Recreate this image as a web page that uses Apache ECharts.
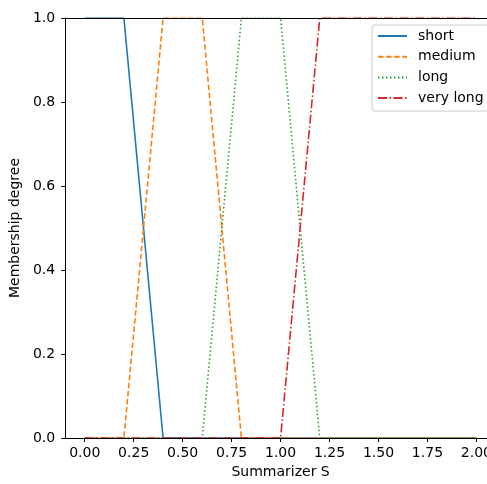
<!DOCTYPE html>
<html>
<head>
<meta charset="utf-8">
<script src="https://cdn.jsdelivr.net/npm/echarts@6/dist/echarts.min.js"></script>
<style>
html,body{margin:0;padding:0;background:#fff;overflow:hidden;}
#chart{width:500px;height:484px;}
</style>
</head>
<body>
<div id="chart"></div>
<script>
// Membership functions (x = Summarizer S, y = membership degree)
const seriesNames = ['short', 'medium', 'long', 'very long'];
const shortX = [0, 0.2, 0.4, 2.0];
const shortY = [1, 1, 0, 0];
const mediumX = [0, 0.2, 0.4, 0.6, 0.8, 2.0];
const mediumY = [0, 0, 1, 1, 0, 0];
const longX = [0, 0.6, 0.8, 1.0, 1.2, 2.0];
const longY = [0, 0, 1, 1, 0, 0];
const veryLongX = [0, 1.0, 1.2, 2.0];
const veryLongY = [0, 0, 1, 1];
const xTicks = [0, 0.25, 0.5, 0.75, 1.0, 1.25, 1.5, 1.75, 2.0];
const yTicks = [0, 0.2, 0.4, 0.6, 0.8, 1.0];

const zip = (xs, ys) => xs.map((x, i) => [x, ys[i]]);
const FONT = 'DejaVu Sans';
const FS = 14;
const colors = ['#1f77b4', '#ff7f0e', '#2ca02c', '#d62728'];
const lw = 1.6;

const chart = echarts.init(document.getElementById('chart'));
chart.setOption({
  animation: false,
  backgroundColor: '#fff',
  textStyle: { fontFamily: FONT },
  grid: { left: 65, top: 18, width: 431, height: 426, containLabel: false },
  legend: {
    orient: 'vertical',
    left: 372, top: 25,
    padding: [4, 6, 6, 5],
    itemWidth: 29, itemHeight: 14, itemGap: 6.7,
    borderColor: '#cccccc', borderWidth: 1, borderRadius: 3,
    backgroundColor: 'rgba(255,255,255,0.8)',
    itemStyle: { opacity: 0 },
    textStyle: { fontFamily: FONT, fontSize: FS, color: '#000', padding: [0, 0, 0, 6] },
    data: seriesNames
  },
  xAxis: [{
    type: 'value', min: -0.1, max: 2.1, z: 5,
    name: 'Summarizer S', nameLocation: 'middle', nameGap: 27,
    nameTextStyle: { fontFamily: FONT, fontSize: FS, color: '#000' },
    axisLine: { show: true, onZero: false, lineStyle: { color: '#000', width: 1 } },
    axisTick: { show: true, length: 4, lineStyle: { color: '#000' }, customValues: xTicks },
    axisLabel: { margin: 8, fontFamily: FONT, fontSize: FS, color: '#000', customValues: xTicks,
      formatter: v => v.toFixed(2) },
    splitLine: { show: false }
  }, {
    type: 'value', position: 'top', min: -0.1, max: 2.1, z: 5,
    axisLine: { show: true, onZero: false, lineStyle: { color: '#000', width: 1 } },
    axisTick: { show: false }, axisLabel: { show: false }, splitLine: { show: false }
  }],
  yAxis: [{
    type: 'value', min: 0, max: 1, interval: 0.2, z: 5,
    name: 'Membership degree', nameLocation: 'middle', nameGap: 40,
    nameTextStyle: { fontFamily: FONT, fontSize: FS, color: '#000' },
    axisLine: { show: true, onZero: false, lineStyle: { color: '#000', width: 1 } },
    axisTick: { show: true, length: 4, lineStyle: { color: '#000' }, customValues: yTicks },
    axisLabel: { margin: 10, fontFamily: FONT, fontSize: FS, color: '#000', customValues: yTicks,
      formatter: v => v.toFixed(1) },
    splitLine: { show: false }
  }],
  series: [
    { name: seriesNames[0], type: 'line', data: zip(shortX, shortY), symbol: 'none',
      color: colors[0], lineStyle: { width: lw, type: 'solid' } },
    { name: seriesNames[1], type: 'line', data: zip(mediumX, mediumY), symbol: 'none',
      color: colors[1], lineStyle: { width: lw, type: [5.5, 2.6] } },
    { name: seriesNames[2], type: 'line', data: zip(longX, longY), symbol: 'none',
      color: colors[2], lineStyle: { width: lw, type: [1.5, 2.5] } },
    { name: seriesNames[3], type: 'line', data: zip(veryLongX, veryLongY), symbol: 'none',
      color: colors[3], lineStyle: { width: lw, type: [9, 2.5, 1.5, 2.5] } }
  ]
});
</script>
</body>
</html>
